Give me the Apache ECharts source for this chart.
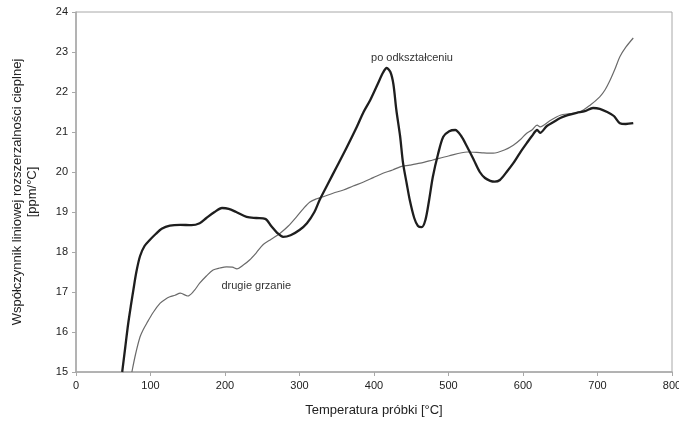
<!DOCTYPE html>
<html>
<head>
<meta charset="utf-8">
<script src="https://cdn.jsdelivr.net/npm/echarts@6/dist/echarts.min.js"></script>
<style>
  html, body { margin: 0; padding: 0; background: #fff; }
  #container { width: 679px; height: 421px; }
</style>
</head>
<body>
<div id="container"></div>
<script>
const container = document.getElementById('container');
const chartIns = echarts.init(container);

// po odkształceniu (gruba linia)
const deformedTemp = [62, 66, 70, 74, 77, 81, 86, 92, 99, 107, 115, 126, 140, 155, 166, 175, 186, 196, 205, 215, 229, 242, 254, 262, 270, 278, 288, 300, 310, 320, 327, 338, 350, 363, 377, 386, 395, 405, 412, 417, 422, 426, 430, 435, 439, 444, 448, 454, 459, 464, 469, 474, 479, 486, 493, 501, 509, 517, 525, 534, 542, 549, 556, 562, 569, 578, 587, 596, 605, 612, 619, 623, 632, 641, 650, 660, 672, 683, 694, 703, 713, 722, 730, 738, 748];
const deformedCte = [15.0, 15.6, 16.2, 16.7, 17.05, 17.5, 17.9, 18.15, 18.3, 18.45, 18.58, 18.66, 18.68, 18.67, 18.72, 18.85, 19.0, 19.1, 19.08, 19.0, 18.88, 18.85, 18.83, 18.65, 18.48, 18.38, 18.42, 18.55, 18.72, 19.0, 19.3, 19.7, 20.13, 20.6, 21.13, 21.5, 21.8, 22.2, 22.48, 22.6, 22.5, 22.2, 21.55, 20.9, 20.22, 19.7, 19.3, 18.85, 18.65, 18.62, 18.8, 19.3, 19.88, 20.45, 20.88, 21.02, 21.05, 20.9, 20.63, 20.3, 20.0, 19.85, 19.78, 19.76, 19.8, 20.0, 20.22, 20.48, 20.72, 20.9, 21.05, 20.98, 21.15, 21.25, 21.35, 21.42, 21.48, 21.52, 21.6, 21.58, 21.5, 21.4, 21.22, 21.2, 21.22];

// drugie grzanie (cienka linia)
const secondTemp = [75, 80, 86, 90, 95, 104, 113, 120, 126, 133, 140, 150, 158, 166, 175, 184, 193, 202, 210, 216, 225, 233, 242, 251, 262, 274, 285, 296, 305, 314, 323, 332, 345, 359, 372, 386, 399, 412, 425, 435, 448, 462, 479, 500, 525, 545, 560, 575, 587, 597, 605, 612, 619, 623, 636, 650, 663, 676, 690, 703, 710, 717, 724, 730, 738, 748];
const secondCte = [15.0, 15.45, 15.88, 16.05, 16.22, 16.5, 16.72, 16.82, 16.88, 16.92, 16.97, 16.9, 17.02, 17.22, 17.4, 17.55, 17.6, 17.63, 17.62, 17.58, 17.68, 17.8, 17.98, 18.18, 18.32, 18.47, 18.65, 18.88, 19.08, 19.25, 19.33, 19.38, 19.47, 19.55, 19.65, 19.75, 19.86, 19.97, 20.05, 20.13, 20.17, 20.22, 20.3, 20.4, 20.5, 20.48, 20.47, 20.55, 20.67, 20.82, 20.97, 21.05, 21.17, 21.13, 21.28, 21.42, 21.46, 21.5, 21.67, 21.88, 22.05, 22.3, 22.6, 22.88, 23.12, 23.35];

const xTicks = [0, 100, 200, 300, 400, 500, 600, 700, 800];
const yTicks = [15, 16, 17, 18, 19, 20, 21, 22, 23, 24];

const toPairs = (xs, ys) => xs.map((x, i) => [x, ys[i]]);

const axisGray = '#a8a8a8';
const textColor = '#222';
const fontFamily = 'Liberation Sans, Arial, sans-serif';

// podpis krzywej w miejscu danych
const curveLabel = (coord, text) => ({
  symbol: 'circle',
  symbolSize: 1,
  itemStyle: { color: 'rgba(0,0,0,0)' },
  label: { show: true, position: 'inside', fontSize: 11, color: '#333', fontFamily },
  data: [{ coord: coord, value: text, label: { formatter: text } }]
});

const option = {
  backgroundColor: '#fff',
  animation: false,
  grid: {
    left: 76, top: 12, right: 7, bottom: 49,
    outerBoundsMode: 'none',
    show: true, borderColor: axisGray, borderWidth: 1
  },
  xAxis: {
    type: 'value',
    min: xTicks[0],
    max: xTicks[xTicks.length - 1],
    interval: 100,
    name: 'Temperatura próbki [°C]',
    nameLocation: 'middle',
    nameGap: 32,
    nameTextStyle: { fontSize: 13, color: textColor, fontFamily },
    axisLine: { lineStyle: { color: axisGray, width: 1.5 } },
    axisTick: { show: true, length: 4, lineStyle: { color: axisGray } },
    axisLabel: { fontSize: 11, color: textColor, fontFamily, margin: 8 },
    splitLine: { show: false }
  },
  yAxis: {
    type: 'value',
    min: yTicks[0],
    max: yTicks[yTicks.length - 1],
    interval: 1,
    name: 'Współczynnik liniowej rozszerzalności cieplnej\n[ppm/°C]',
    nameLocation: 'middle',
    nameRotate: 90,
    nameGap: 36,
    nameTextStyle: { fontSize: 13, color: textColor, fontFamily, lineHeight: 15 },
    axisLine: { show: true, lineStyle: { color: axisGray, width: 1.5 } },
    axisTick: { show: true, length: 4, lineStyle: { color: axisGray } },
    axisLabel: { fontSize: 11, color: textColor, fontFamily, margin: 8 },
    splitLine: { show: false }
  },
  series: [
    {
      name: 'drugie grzanie',
      type: 'line',
      showSymbol: false,
      smooth: 0.3,
      data: toPairs(secondTemp, secondCte),
      lineStyle: { color: '#6a6a6a', width: 1.2 },
      markPoint: curveLabel([242, 17.15], 'drugie grzanie')
    },
    {
      name: 'po odkształceniu',
      type: 'line',
      showSymbol: false,
      smooth: 0.3,
      data: toPairs(deformedTemp, deformedCte),
      lineStyle: { color: '#1e1e1e', width: 2.3 },
      markPoint: curveLabel([451, 22.85], 'po odkształceniu')
    }
  ]
};

chartIns.setOption(option);
</script>
</body>
</html>
